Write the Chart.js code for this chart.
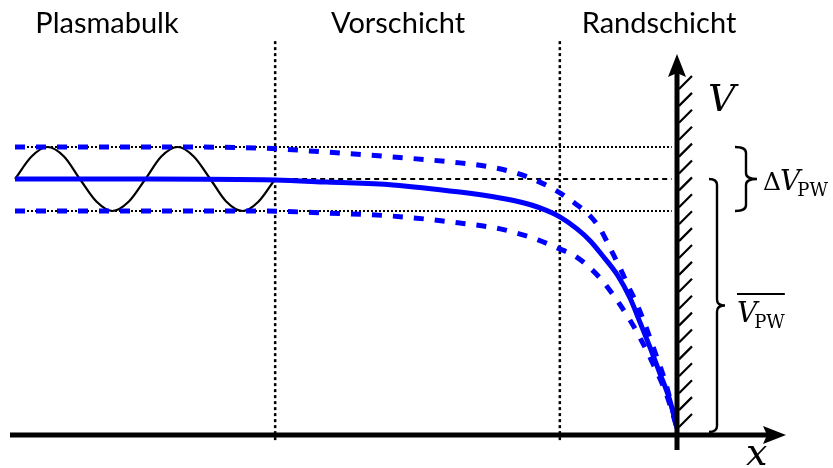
<!DOCTYPE html>
<html>
<head>
<meta charset="utf-8">
<script src="https://cdn.jsdelivr.net/npm/chart.js@4/dist/chart.umd.min.js"></script>
<style>
  html, body { margin: 0; padding: 0; background: #fff; overflow: hidden; }
  canvas { display: block; }
</style>
</head>
<body>
<canvas id="c" width="833" height="468"></canvas>
<script>
// Position x: 0 = start of the bulk region, 100 = wall.
// Potential V: 0 = wall potential, 100 = mean plasma potential.
const regionLabels = ['Plasmabulk', 'Vorschicht', 'Randschicht'];
const regionBounds = [39.3, 82.3];          // bulk|presheath, presheath|sheath
const wallX = 100;
const potentialMean = 100;
const potentialHigh = 112.5;
const potentialLow = 87.5;

// Oscillating plasma potential in the bulk
const rfX = [0, 2.5, 4.9, 7.4, 9.8, 12.3, 14.7, 17.2, 19.7, 22.1, 24.6, 27.0, 29.5, 31.9, 34.4, 36.8, 39.3];
const rfV = [100, 108.8, 112.5, 108.8, 100, 91.2, 87.5, 91.2, 100, 108.8, 112.5, 108.8, 100, 91.2, 87.5, 91.2, 100];

// Time-averaged potential profile
const meanX = [0, 20.4, 39.3, 47.1, 57.1, 67.2, 73.3, 76.3, 79.3, 82.3, 84.9, 86.9, 88.8, 91.0, 92.9, 94.4, 95.9, 97.4, 98.9, 100];
const meanV = [100, 100, 99.6, 98.8, 97.7, 94.9, 92.6, 91.0, 88.7, 85.2, 80.5, 75.8, 69.9, 62.5, 53.5, 44.1, 34.4, 24.2, 13.7, 2.7];

// Profile at maximum plasma potential
const highX = [0, 20.4, 37.0, 47.1, 57.1, 67.2, 71.8, 75.2, 78.2, 81.6, 84.1, 86.9, 88.4, 89.9, 91.4, 92.7, 94.0, 95.2, 96.4, 98.5, 100];
const highV = [112.5, 112.5, 112.1, 110.5, 108.6, 106.3, 104.7, 102.7, 100, 95.7, 91.4, 85.5, 80.5, 73.0, 65.2, 57.8, 50.8, 43.0, 34.4, 18.4, 2.7];

// Profile at minimum plasma potential
const lowX = [0, 20.4, 37.0, 47.1, 57.1, 67.2, 73.3, 76.3, 79.0, 82.0, 84.6, 86.9, 89.0, 90.8, 92.6, 94.1, 96.4, 98.5, 100];
const lowV = [87.5, 87.5, 87.5, 86.7, 85.5, 82.8, 80.5, 78.5, 76.2, 73.0, 69.9, 65.2, 59.4, 53.1, 46.1, 39.5, 27.7, 15.2, 2.7];

const pts = (xs, vs) => xs.map((x, i) => ({ x, y: vs[i] }));
const BLUE = '#0000ff';
const refEnd = 99.2;

const datasets = [
  // region dividers
  ...regionBounds.map(b => ({
    data: [{ x: b, y: -2 }, { x: b, y: 154 }],
    borderColor: '#000', borderWidth: 2.5, borderDash: [3, 3], order: 10
  })),
  // reference levels
  { data: [{ x: 0, y: potentialHigh }, { x: refEnd, y: potentialHigh }], borderColor: '#000', borderWidth: 2, borderDash: [2, 2], order: 9 },
  { data: [{ x: 0, y: potentialLow }, { x: refEnd, y: potentialLow }], borderColor: '#000', borderWidth: 2, borderDash: [2, 2], order: 9 },
  { data: [{ x: regionBounds[0], y: potentialMean }, { x: refEnd, y: potentialMean }], borderColor: '#000', borderWidth: 2, borderDash: [5, 4], order: 9 },
  // bulk oscillation
  { data: pts(rfX, rfV), borderColor: '#000', borderWidth: 2.2, cubicInterpolationMode: 'monotone', order: 5 },
  // potential profiles
  { data: pts(highX, highV), borderColor: BLUE, borderWidth: 5, borderDash: [10, 11], cubicInterpolationMode: 'monotone', order: 3 },
  { data: pts(lowX, lowV), borderColor: BLUE, borderWidth: 5, borderDash: [10, 11], cubicInterpolationMode: 'monotone', order: 3 },
  { data: pts(meanX, meanV), borderColor: BLUE, borderWidth: 5, cubicInterpolationMode: 'monotone', order: 1 }
].map(d => Object.assign({ clip: false, pointRadius: 0, fill: false, borderCapStyle: 'butt' }, d));

function brace(ctx, xEnd, xSpine, xTip, yTop, yBot, r) {
  const yMid = (yTop + yBot) / 2;
  ctx.beginPath();
  ctx.moveTo(xEnd, yTop);
  ctx.quadraticCurveTo(xSpine, yTop, xSpine, yTop + r);
  ctx.lineTo(xSpine, yMid - r);
  ctx.quadraticCurveTo(xSpine, yMid, xTip, yMid);
  ctx.quadraticCurveTo(xSpine, yMid, xSpine, yMid + r);
  ctx.lineTo(xSpine, yBot - r);
  ctx.quadraticCurveTo(xSpine, yBot, xEnd, yBot);
  ctx.stroke();
}

const diagram = {
  id: 'diagram',
  afterDatasetsDraw(chart) {
    const { ctx, scales: { x, y } } = chart;
    const X = v => x.getPixelForValue(v);
    const Y = v => y.getPixelForValue(v);
    const wx = X(wallX), y0 = Y(0);
    ctx.save();
    ctx.strokeStyle = '#000';
    ctx.fillStyle = '#000';

    // x axis with arrow
    ctx.lineWidth = 5;
    ctx.beginPath();
    ctx.moveTo(10, y0); ctx.lineTo(768, y0); ctx.stroke();
    ctx.beginPath();
    ctx.moveTo(786, y0); ctx.lineTo(763, y0 - 9); ctx.lineTo(767, y0); ctx.lineTo(763, y0 + 9); ctx.closePath(); ctx.fill();

    // wall / potential axis with arrow
    ctx.beginPath();
    ctx.moveTo(wx, y0 + 15); ctx.lineTo(wx, 72); ctx.stroke();
    ctx.beginPath();
    ctx.moveTo(wx, 54); ctx.lineTo(wx - 9, 77); ctx.lineTo(wx, 73); ctx.lineTo(wx + 9, 77); ctx.closePath(); ctx.fill();

    // wall hatching
    ctx.lineWidth = 2.2;
    ctx.beginPath();
    for (let yy = y0 - 8; yy > 85; yy -= 16.9) {
      ctx.moveTo(wx + 2, yy); ctx.lineTo(wx + 15, yy - 13);
    }
    ctx.stroke();

    // braces
    ctx.lineWidth = 2.4;
    brace(ctx, wx + 58, wx + 69, wx + 80, Y(potentialHigh), Y(potentialLow), 6);
    brace(ctx, wx + 32, wx + 40, wx + 48, Y(potentialMean), y0 - 3, 6);

    // region titles
    ctx.font = '29px Lato';
    ctx.textAlign = 'center';
    ctx.textBaseline = 'alphabetic';
    const titleX = [107, 398, 659];
    regionLabels.forEach((t, i) => ctx.fillText(t, titleX[i], 33));

    // axis symbols
    ctx.textAlign = 'left';
    ctx.font = 'italic 38px "DejaVu Serif"';
    ctx.fillText('V', wx + 31, 111);
    ctx.fillText('x', wx + 69, 465);

    // ΔV_PW
    let tx = wx + 86, by = Y(potentialMean) + 11;
    ctx.font = '25px "DejaVu Serif"';
    ctx.fillText('Δ', tx, by); tx += ctx.measureText('Δ').width - 1;
    ctx.font = 'italic 28px "DejaVu Serif"';
    ctx.fillText('V', tx, by); tx += ctx.measureText('V').width - 3;
    ctx.font = '18px "DejaVu Serif"';
    ctx.fillText('PW', tx, by + 6);

    // mean V_PW with overline
    tx = wx + 60; by = (Y(potentialMean) + y0) / 2 + 15;
    const x0 = tx;
    ctx.font = 'italic 28px "DejaVu Serif"';
    ctx.fillText('V', tx, by); tx += ctx.measureText('V').width - 3;
    ctx.font = '18px "DejaVu Serif"';
    ctx.fillText('PW', tx, by + 6); tx += ctx.measureText('PW').width;
    ctx.lineWidth = 1.8;
    ctx.beginPath(); ctx.moveTo(x0, by - 28); ctx.lineTo(tx, by - 28); ctx.stroke();

    ctx.restore();
  }
};

new Chart(document.getElementById('c'), {
  type: 'line',
  data: { datasets },
  options: {
    responsive: false,
    animation: false,
    devicePixelRatio: 1,
    layout: { padding: { left: 15, right: 156, top: 51, bottom: 33 } },
    scales: {
      x: { type: 'linear', min: 0, max: 100, display: false },
      y: { type: 'linear', min: 0, max: 150, display: false }
    },
    plugins: { legend: { display: false }, tooltip: { enabled: false } }
  },
  plugins: [diagram]
});
</script>
</body>
</html>
